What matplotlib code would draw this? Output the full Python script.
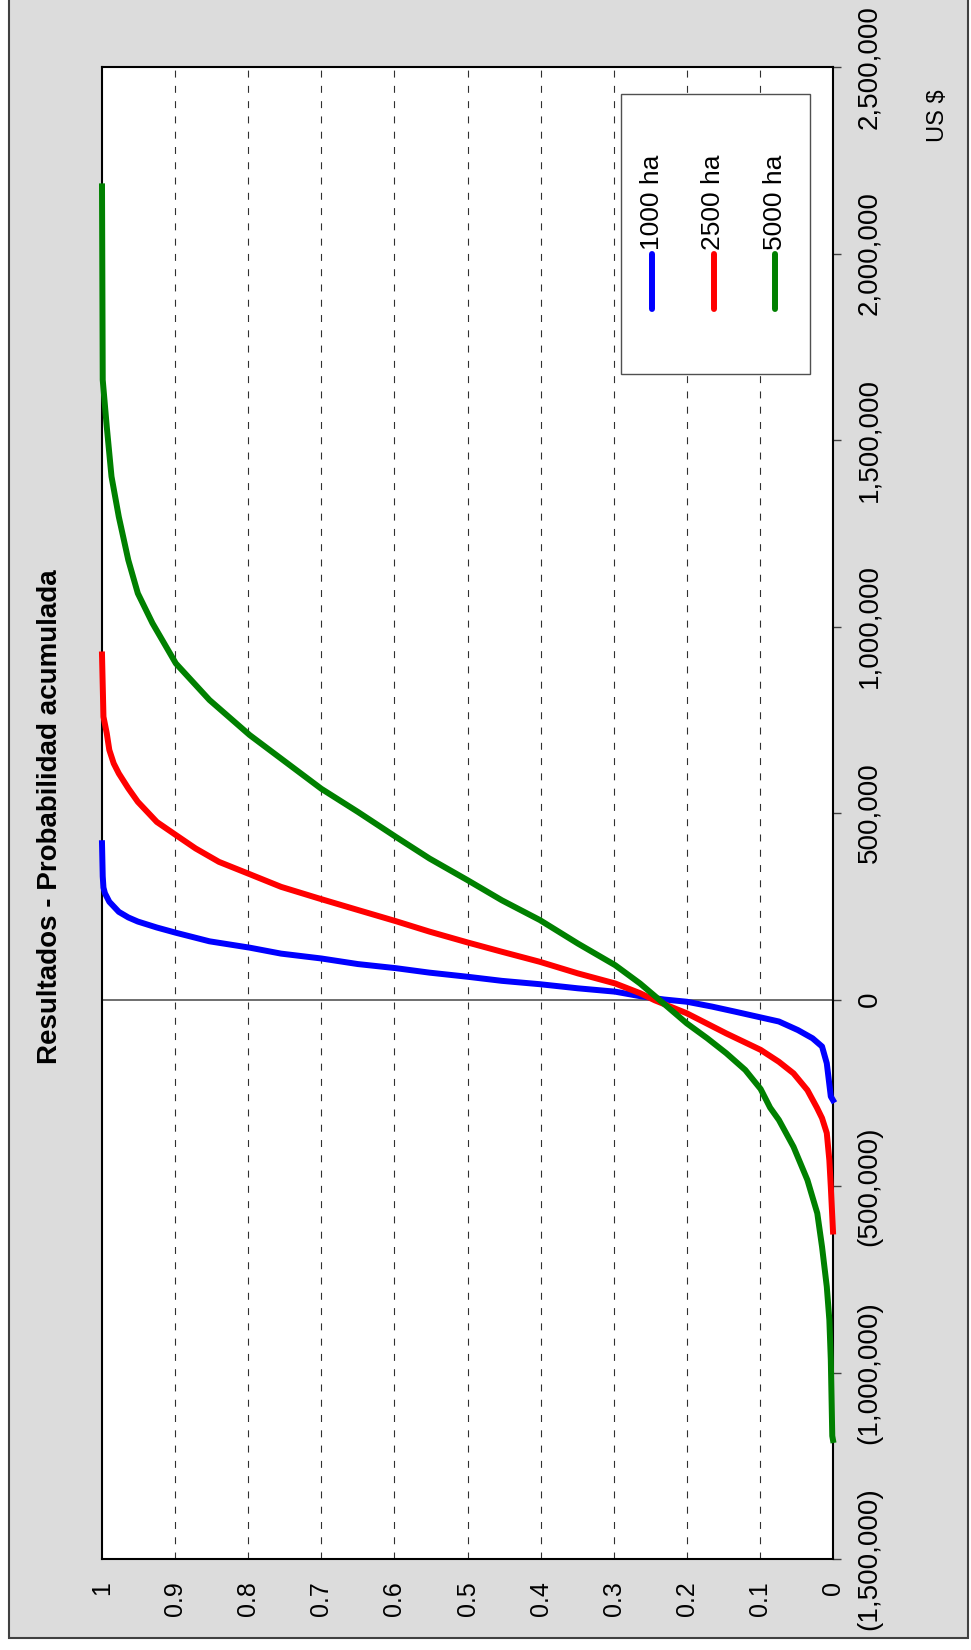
import matplotlib
matplotlib.use('Agg')
import matplotlib.pyplot as plt
from matplotlib.patches import Rectangle
from matplotlib.lines import Line2D
from matplotlib.ticker import FuncFormatter, MultipleLocator

# cumulative distribution: US$ value vs cumulative probability
series_names = ['1000 ha', '2500 ha', '5000 ha']
series_colors = ['#0000FF', '#FF0000', '#008000']

val_1000 = [-270000, -260000, -171000, -126000, -104000, -82000, -59000, -48000, -33000, -19000,
            -6000, 0, 9000, 21000, 30000, 41000, 50000, 61000, 72000, 84000,
            95000, 110000, 123000, 139000, 156000, 179000, 193000, 209000, 220000, 235000,
            262000, 285000, 300000, 330000, 419000]
prob_1000 = [0.0, 0.003, 0.0085, 0.015, 0.028, 0.048, 0.074, 0.099, 0.133, 0.1655,
             0.2, 0.231, 0.264, 0.298, 0.349, 0.401, 0.453, 0.5, 0.552, 0.598,
             0.65, 0.70, 0.755, 0.798, 0.853, 0.899, 0.925, 0.951, 0.964, 0.977,
             0.99, 0.996, 0.998, 0.999, 1.0]

val_2500 = [-622000, -502000, -431000, -358000, -318000, -290000, -243000, -198000, -167000, -135000,
            -91000, -37000, -2000, 17000, 43000, 70000, 101000, 128000, 153000, 182000,
            210000, 240000, 269000, 302000, 336000, 369000, 405000, 441000, 476000, 530000,
            566000, 606000, 633000, 669000, 714000, 758000, 925000]
prob_2500 = [0.0, 0.003, 0.005, 0.0085, 0.015, 0.022, 0.035, 0.054, 0.074, 0.099,
             0.146, 0.2, 0.244, 0.264, 0.298, 0.349, 0.401, 0.453, 0.5, 0.552,
             0.598, 0.65, 0.70, 0.755, 0.798, 0.84, 0.872, 0.899, 0.925, 0.951,
             0.964, 0.977, 0.984, 0.99, 0.9935, 0.998, 1.0]

val_5000 = [-1181000, -1170000, -966000, -859000, -770000, -663000, -573000, -484000, -395000, -323000,
            -290000, -240000, -189000, -144000, -104000, -64000, -1000, 43000, 92000,
            150000, 213000, 266000, 320000, 378000, 436000, 503000, 565000, 709000, 803000,
            901000, 1009000, 1089000, 1178000, 1294000, 1402000, 1536000, 1661000, 2180000]
prob_5000 = [0.0, 0.001, 0.003, 0.005, 0.0085, 0.015, 0.0215, 0.035, 0.054, 0.074,
             0.086, 0.099, 0.12, 0.146, 0.172, 0.2, 0.2375, 0.264, 0.298,
             0.349, 0.401, 0.453, 0.5, 0.552, 0.598, 0.65, 0.70, 0.798, 0.853,
             0.899, 0.931, 0.951, 0.964, 0.977, 0.987, 0.9935, 0.999, 1.0]

prob_ticks = [0, 0.1, 0.2, 0.3, 0.4, 0.5, 0.6, 0.7, 0.8, 0.9, 1]
prob_labels = ['0', '0.1', '0.2', '0.3', '0.4', '0.5', '0.6', '0.7', '0.8', '0.9', '1']
usd_min, usd_max, usd_step = -1500000, 2500000, 500000

W, H = 971, 1650
def fx(px): return px / W
def fy(py): return 1 - py / H

plt.rcParams['font.family'] = ['Liberation Sans', 'DejaVu Sans']
plt.rcParams['lines.scale_dashes'] = False

fig = plt.figure(figsize=(W / 100, H / 100), dpi=100, facecolor='white')
fig.add_artist(Rectangle((fx(9), fy(1638)), fx(968) - fx(9), fy(-10) - fy(1638),
                         transform=fig.transFigure, facecolor='#DCDCDC',
                         edgecolor='#404040', lw=1.5, zorder=-10))

ax = fig.add_axes([fx(102), fy(1559), fx(833) - fx(102), fy(67) - fy(1559)])
ax.set_facecolor('white')

# chart is shown rotated: probability runs right->left, US$ runs bottom->top
for g in prob_ticks[1:-1]:
    ax.axvline(g, color='#303030', lw=0.8, dashes=(5, 6), zorder=1)
ax.axhline(0, color='#555555', lw=1.2, zorder=1)

data = [(val_1000, prob_1000), (val_2500, prob_2500), (val_5000, prob_5000)]
for (v, p), c in zip(data, series_colors):
    ax.plot(p, v, color=c, lw=4.3, solid_joinstyle='round', zorder=3, clip_on=False)

ax.set_xlim(1, 0)
ax.set_ylim(usd_min, usd_max)
ax.set_xticks(prob_ticks)
ax.set_xticklabels(prob_labels)
ax.yaxis.set_major_locator(MultipleLocator(usd_step))
ax.yaxis.set_major_formatter(FuncFormatter(
    lambda v, pos: '(%s)' % format(int(-v), ',') if v < 0 else format(int(v), ',')))
ax.yaxis.tick_right()
ax.tick_params(axis='x', length=0, pad=16, labelsize=18, labelrotation=90)
ax.tick_params(axis='y', length=6, width=1, color='#404040', pad=11, labelsize=20, labelrotation=90)
for lab in ax.get_yticklabels():
    lab.set_va('center')
for s in ax.spines.values():
    s.set_linewidth(1.5)
    s.set_color('black')

fig.text(fx(50), fy(817), 'Resultados - Probabilidad acumulada', rotation=90,
         ha='center', va='center', fontsize=20, fontweight='bold')
fig.text(fx(938), fy(116), 'US $', rotation=90, ha='center', va='center', fontsize=17)

# legend (rotated, built by hand)
fig.add_artist(Rectangle((fx(621), fy(374)), fx(810) - fx(621), fy(94) - fy(374),
                         transform=fig.transFigure, facecolor='white',
                         edgecolor='#505050', lw=1, zorder=5))
for i, (name, c) in enumerate(zip(series_names, series_colors)):
    x = 652 + i * 61.5
    fig.add_artist(Line2D([fx(x), fx(x)], [fy(254), fy(309)], transform=fig.transFigure,
                          color=c, lw=4.3, solid_capstyle='round', zorder=6))
    fig.text(fx(x), fy(250), name, rotation=90, ha='center', va='bottom',
             fontsize=19, zorder=6)

fig.savefig('out.png', dpi=100, facecolor=fig.get_facecolor())
